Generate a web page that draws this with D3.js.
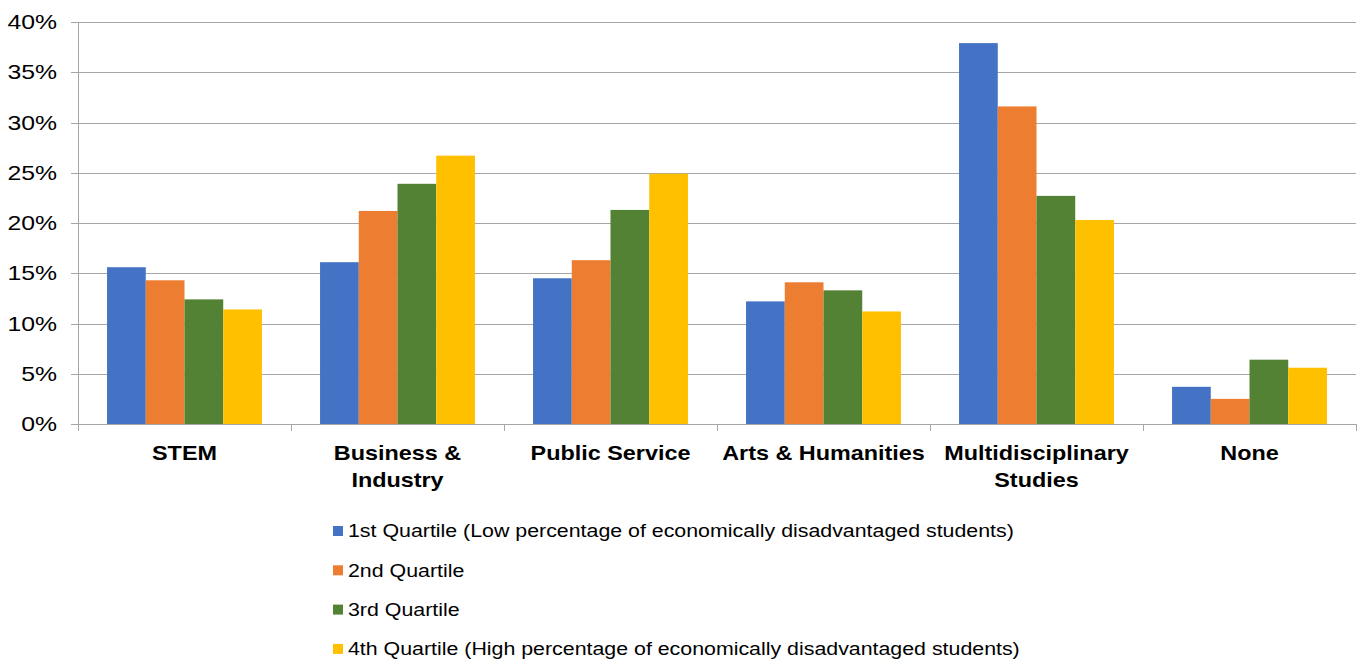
<!DOCTYPE html>
<html>
<head>
<meta charset="utf-8">
<script src="https://cdn.jsdelivr.net/npm/d3@7"></script>
<style>
  body { margin: 0; background: #fff; }
  text { font-family: "Liberation Sans", Arial, sans-serif; fill: #000; }
</style>
</head>
<body>
<svg id="chart" width="1364" height="664"></svg>
<script>
// Category labels (split into lines for the axis)
const categories = ["STEM", "Business & Industry", "Public Service", "Arts & Humanities", "Multidisciplinary Studies", "None"];
const categoryLines = [["STEM"], ["Business &", "Industry"], ["Public Service"], ["Arts & Humanities"], ["Multidisciplinary", "Studies"], ["None"]];

const seriesNames = [
    "1st Quartile (Low percentage of economically disadvantaged students)",
    "2nd Quartile",
    "3rd Quartile",
    "4th Quartile (High percentage of economically disadvantaged students)"
];
const seriesColors = ["#4472C4", "#ED7D31", "#548235", "#FFC000"];

// Values in percent, one array per quartile
const q1 = [15.6, 16.1, 14.5, 12.2, 37.9, 3.7];
const q2 = [14.3, 21.2, 16.3, 14.1, 31.6, 2.5];
const q3 = [12.4, 23.9, 21.3, 13.3, 22.7, 6.4];
const q4 = [11.4, 26.7, 24.9, 11.2, 20.3, 5.6];
const seriesValues = [q1, q2, q3, q4];

const yTicks = [0, 5, 10, 15, 20, 25, 30, 35, 40];

const svg = d3.select("#chart");
const margin = { left: 78, right: 8, top: 22 };
const W = 1364;
const plotBottom = 424;

const x = d3.scaleBand()
    .domain(categories)
    .range([margin.left, W - margin.right]);

// gap width 150% of a bar, split on both sides of the group
const x1 = d3.scaleBand()
    .domain(d3.range(seriesNames.length))
    .range([0, x.bandwidth()])
    .paddingInner(0)
    .paddingOuter(0.75);

const y = d3.scaleLinear()
    .domain([0, 40])
    .range([plotBottom, margin.top]);

// gridlines with small left ticks
svg.append("g")
    .selectAll("line")
    .data(yTicks)
    .join("line")
    .attr("x1", margin.left - 7)
    .attr("x2", W - margin.right)
    .attr("y1", d => Math.round(y(d)) + 0.5)
    .attr("y2", d => Math.round(y(d)) + 0.5)
    .attr("stroke", "#a6a6a6")
    .attr("stroke-width", 1);

// y tick labels (the source fonts look a bit wider than Liberation Sans)
svg.append("g")
    .selectAll("text")
    .data(yTicks)
    .join("text")
    .attr("transform", d => `translate(57,${y(d)}) scale(1.24,1)`)
    .attr("dy", "0.35em")
    .attr("text-anchor", "end")
    .style("font-size", "20px")
    .text(d => d + "%");

// bars
const groups = svg.append("g")
    .selectAll("g")
    .data(categories)
    .join("g")
    .attr("transform", d => `translate(${x(d)},0)`);

groups.selectAll("rect")
    .data((d, i) => seriesValues.map((vals, s) => ({ s, v: vals[i] })))
    .join("rect")
    .attr("x", d => x1(d.s))
    .attr("width", x1.bandwidth())
    .attr("y", d => y(d.v))
    .attr("height", d => plotBottom - y(d.v))
    .attr("fill", d => seriesColors[d.s]);

// y axis line
svg.append("line")
    .attr("x1", margin.left + 0.5).attr("x2", margin.left + 0.5)
    .attr("y1", margin.top).attr("y2", plotBottom + 7)
    .attr("stroke", "#a6a6a6");

// x axis category ticks
const boundaries = categories.map(c => x(c)).concat([W - margin.right]);
svg.append("g")
    .selectAll("line")
    .data(boundaries)
    .join("line")
    .attr("x1", d => Math.round(d) + 0.5)
    .attr("x2", d => Math.round(d) + 0.5)
    .attr("y1", plotBottom)
    .attr("y2", plotBottom + 7)
    .attr("stroke", "#a6a6a6");

// category labels
const catLabels = svg.append("g")
    .selectAll("text")
    .data(categories)
    .join("text")
    .attr("transform", d => `translate(${x(d) + x.bandwidth() / 2},460) scale(1.2,1)`)
    .attr("text-anchor", "middle")
    .style("font-size", "19.5px")
    .style("font-weight", "bold");

catLabels.selectAll("tspan")
    .data((d, i) => categoryLines[i])
    .join("tspan")
    .attr("x", 0)
    .attr("dy", (d, i) => i === 0 ? 0 : 27)
    .text(d => d);

// legend
const legend = svg.append("g")
    .selectAll("g")
    .data(seriesNames)
    .join("g")
    .attr("transform", (d, i) => `translate(333,${531 + i * 39.3})`);

legend.append("rect")
    .attr("x", 0)
    .attr("y", -5)
    .attr("width", 10)
    .attr("height", 10)
    .attr("fill", (d, i) => seriesColors[i]);

legend.append("text")
    .attr("transform", "translate(15,0) scale(1.155,1)")
    .attr("dy", "0.35em")
    .style("font-size", "18.5px")
    .text(d => d);
</script>
</body>
</html>
